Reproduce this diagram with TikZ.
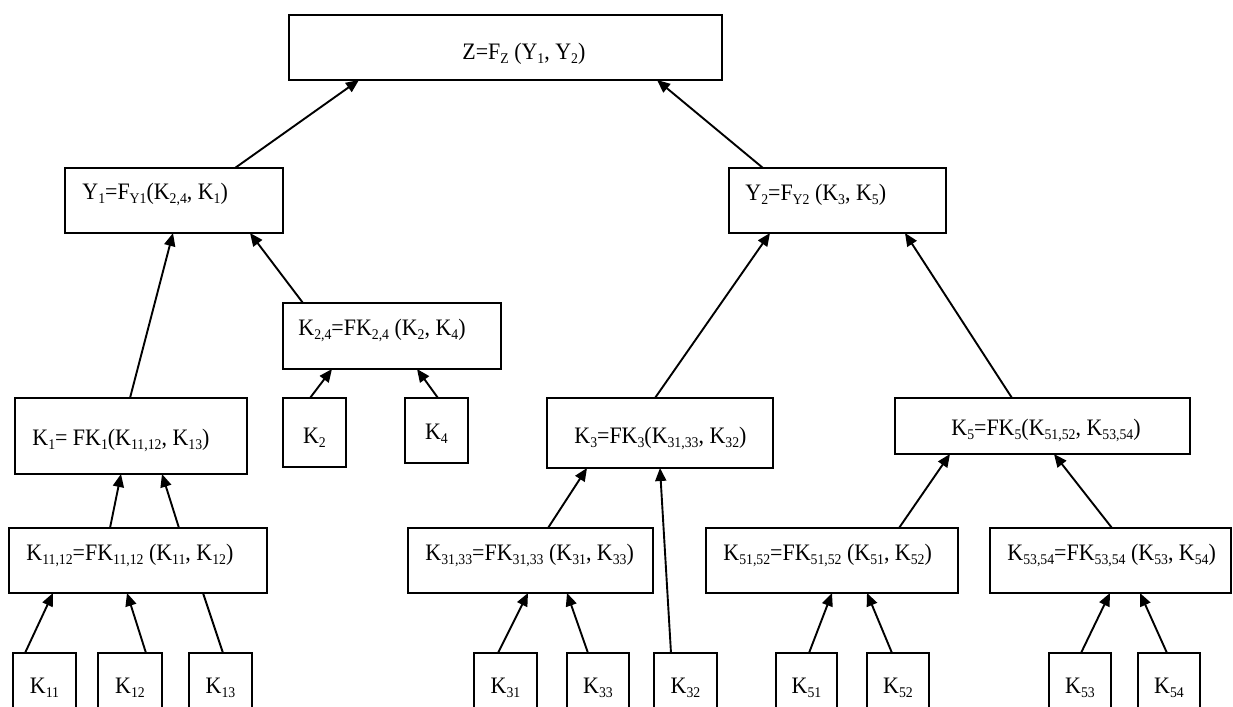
\documentclass[tikz,border=0pt]{standalone}
\usepackage{fontspec}
\setmainfont{Liberation Serif}
\usetikzlibrary{arrows.meta}
\newcommand\sbx[1]{\raisebox{-0.4ex}{\fontsize{7.4pt}{8pt}\selectfont #1}}
\newcommand\txn[1]{\scalebox{0.93}[1]{#1}}
\tikzset{
  box/.style={draw, line width=0.85pt, inner sep=0pt, outer sep=0pt, anchor=north west},
  lbl/.style={inner sep=0pt, anchor=base west, font=\fontsize{11.8pt}{14pt}\selectfont},
  leaflbl/.style={inner sep=0pt, anchor=base, font=\fontsize{11.8pt}{14pt}\selectfont},
  arr/.style={line width=0.95pt, -{Triangle[length=6.5pt,width=5.5pt]}},
  ln/.style={line width=0.95pt}
}
\begin{document}
\begin{tikzpicture}[x=0.5pt,y=-0.5pt]
\useasboundingbox (0,0) rectangle (1233,707);
\clip (0,0) rectangle (1233,707);
% boxes
\node[box, minimum width=216.5pt, minimum height=32.5pt] (z) at (289,15) {};
\node[box, minimum width=109pt, minimum height=32.5pt] (y1) at (65,168) {};
\node[box, minimum width=108.5pt, minimum height=32.5pt] (y2) at (729,168) {};
\node[box, minimum width=109pt, minimum height=33pt] (k24) at (283,303) {};
\node[box, minimum width=116pt, minimum height=38pt] (k1) at (15,398) {};
\node[box, minimum width=31.5pt, minimum height=34.5pt] (k2) at (283,398) {};
\node[box, minimum width=31.5pt, minimum height=32.5pt] (k4) at (405,398) {};
\node[box, minimum width=113pt, minimum height=35pt] (k3) at (547,398) {};
\node[box, minimum width=147.5pt, minimum height=28pt] (k5) at (895,398) {};
\node[box, minimum width=129pt, minimum height=32.5pt] (k1112) at (9,528) {};
\node[box, minimum width=122.5pt, minimum height=32.5pt] (k3133) at (408,528) {};
\node[box, minimum width=126pt, minimum height=32.5pt] (k5152) at (706,528) {};
\node[box, minimum width=120.5pt, minimum height=32.5pt] (k5354) at (990,528) {};
% leaves
\node[box, minimum width=31.5pt, minimum height=35pt] (k11) at (13,653) {};
\node[box, minimum width=32pt, minimum height=35pt] (k12) at (98,653) {};
\node[box, minimum width=31.5pt, minimum height=35pt] (k13) at (189,653) {};
\node[box, minimum width=31.5pt, minimum height=35pt] (k31) at (474,653) {};
\node[box, minimum width=31pt, minimum height=35pt] (k33) at (567,653) {};
\node[box, minimum width=31.5pt, minimum height=35pt] (k32) at (654,653) {};
\node[box, minimum width=30.5pt, minimum height=35pt] (k51) at (776,653) {};
\node[box, minimum width=31pt, minimum height=35pt] (k52) at (867,653) {};
\node[box, minimum width=31pt, minimum height=35pt] (k53) at (1049,653) {};
\node[box, minimum width=31pt, minimum height=35pt] (k54) at (1138,653) {};
% labels
\node[lbl] (zt) at (462,59) {\txn{Z=F\sbx{Z} (Y\sbx{1}, Y\sbx{2})}};
\node[lbl] (y1t) at (82,199) {\txn{Y\sbx{1}=F\sbx{Y1}(K\sbx{2,4}, K\sbx{1})}};
\node[lbl] (y2t) at (745,200) {\txn{Y\sbx{2}=F\sbx{Y2} (K\sbx{3}, K\sbx{5})}};
\node[lbl] (k24t) at (298,335) {\txn{K\sbx{2,4}=FK\sbx{2,4} (K\sbx{2}, K\sbx{4})}};
\node[lbl] (k1t) at (32,445) {\txn{K\sbx{1}= FK\sbx{1}(K\sbx{11,12}, K\sbx{13})}};
\node[lbl] (k3t) at (574,443) {\txn{K\sbx{3}=FK\sbx{3}(K\sbx{31,33}, K\sbx{32})}};
\node[lbl] (k5t) at (951,435) {\txn{K\sbx{5}=FK\sbx{5}(K\sbx{51,52}, K\sbx{53,54})}};
\node[lbl] (k1112t) at (26,560) {\txn{K\sbx{11,12}=FK\sbx{11,12} (K\sbx{11}, K\sbx{12})}};
\node[lbl] (k3133t) at (425,560) {\txn{K\sbx{31,33}=FK\sbx{31,33} (K\sbx{31}, K\sbx{33})}};
\node[lbl] (k5152t) at (723,560) {\txn{K\sbx{51,52}=FK\sbx{51,52} (K\sbx{51}, K\sbx{52})}};
\node[lbl] (k5354t) at (1007,560) {\txn{K\sbx{53,54}=FK\sbx{53,54} (K\sbx{53}, K\sbx{54})}};
\node[leaflbl] (k2t) at (314.5,443) {\txn{K\sbx{2}}};
\node[leaflbl] (k4t) at (436.5,439) {\txn{K\sbx{4}}};
\node[leaflbl] (k11t) at (44.5,693) {\txn{K\sbx{11}}};
\node[leaflbl] (k12t) at (130,693) {\txn{K\sbx{12}}};
\node[leaflbl] (k13t) at (220.5,693) {\txn{K\sbx{13}}};
\node[leaflbl] (k31t) at (505.5,693) {\txn{K\sbx{31}}};
\node[leaflbl] (k33t) at (598,693) {\txn{K\sbx{33}}};
\node[leaflbl] (k32t) at (685.5,693) {\txn{K\sbx{32}}};
\node[leaflbl] (k51t) at (806.5,693) {\txn{K\sbx{51}}};
\node[leaflbl] (k52t) at (898,693) {\txn{K\sbx{52}}};
\node[leaflbl] (k53t) at (1080,693) {\txn{K\sbx{53}}};
\node[leaflbl] (k54t) at (1169,693) {\txn{K\sbx{54}}};
% connectors
\draw[arr] ([shift={(170,0)}]y1.north west) -- ([shift={(70,0)}]z.south west);
\draw[arr] ([shift={(34,0)}]y2.north west) -- ([shift={(368,0)}]z.south west);
\draw[arr] ([shift={(115,0)}]k1.north west) -- ([shift={(108,0)}]y1.south west);
\draw[arr] ([shift={(20,0)}]k24.north west) -- ([shift={(185,0)}]y1.south west);
\draw[arr] ([shift={(27,0)}]k2.north west) -- ([shift={(49,0)}]k24.south west);
\draw[arr] ([shift={(33,0)}]k4.north west) -- ([shift={(134,0)}]k24.south west);
\draw[arr] ([shift={(101,0)}]k1112.north west) -- ([shift={(106,0)}]k1.south west);
\draw[arr] ([shift={(170,0)}]k1112.north west) -- ([shift={(147,0)}]k1.south west);
\draw[arr] ([shift={(12,0)}]k11.north west) -- ([shift={(44,0)}]k1112.south west);
\draw[arr] ([shift={(48,0)}]k12.north west) -- ([shift={(118,0)}]k1112.south west);
\draw[ln] ([shift={(34,0)}]k13.north west) -- ([shift={(194,0)}]k1112.south west);
\draw[arr] ([shift={(108,0)}]k3.north west) -- ([shift={(41,0)}]y2.south west);
\draw[arr] ([shift={(117,0)}]k5.north west) -- ([shift={(176,0)}]y2.south west);
\draw[arr] ([shift={(140,0)}]k3133.north west) -- ([shift={(40,0)}]k3.south west);
\draw[arr] ([shift={(17,0)}]k32.north west) -- ([shift={(113,0)}]k3.south west);
\draw[arr] ([shift={(24,0)}]k31.north west) -- ([shift={(120,0)}]k3133.south west);
\draw[arr] ([shift={(21,0)}]k33.north west) -- ([shift={(159,0)}]k3133.south west);
\draw[arr] ([shift={(193,0)}]k5152.north west) -- ([shift={(55,0)}]k5.south west);
\draw[arr] ([shift={(122,0)}]k5354.north west) -- ([shift={(159,0)}]k5.south west);
\draw[arr] ([shift={(33,0)}]k51.north west) -- ([shift={(126,0)}]k5152.south west);
\draw[arr] ([shift={(25,0)}]k52.north west) -- ([shift={(161,0)}]k5152.south west);
\draw[arr] ([shift={(32,0)}]k53.north west) -- ([shift={(120,0)}]k5354.south west);
\draw[arr] ([shift={(29,0)}]k54.north west) -- ([shift={(150,0)}]k5354.south west);
\end{tikzpicture}
\end{document}
